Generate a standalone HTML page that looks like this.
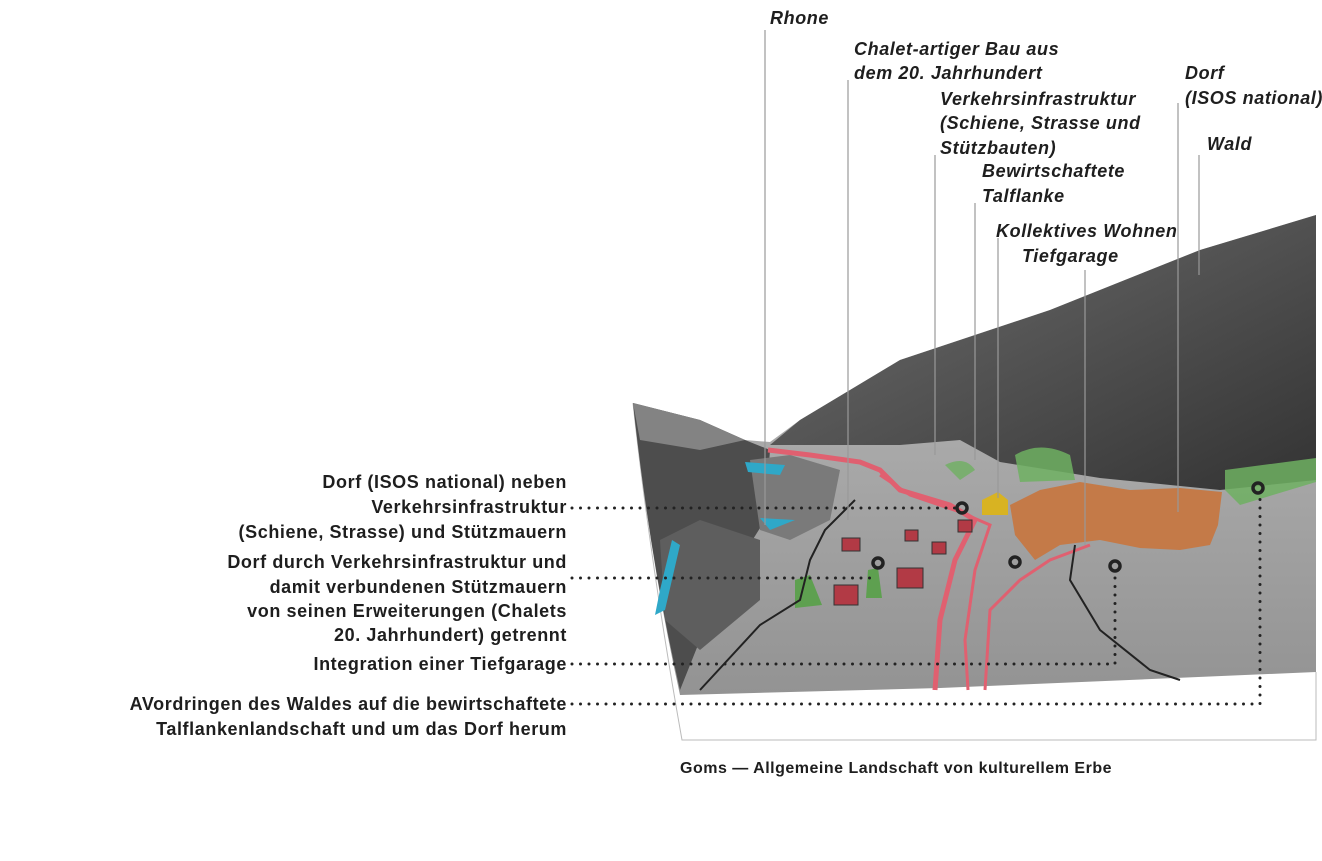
<!DOCTYPE html>
<html><head><meta charset="utf-8"><style>
body{margin:0;background:#fff;width:1322px;height:861px;overflow:hidden;font-family:"Liberation Sans",sans-serif}
svg{position:absolute;left:0;top:0}
.t{font-family:"Liberation Sans",sans-serif;font-size:18px;fill:#1e1e1e;font-weight:bold;letter-spacing:0.6px}
.i{font-style:italic}
</style></head><body>
<svg width="1322" height="861" viewBox="0 0 1322 861">
<defs>
<linearGradient id="mt" x1="0" y1="0" x2="1" y2="1"><stop offset="0" stop-color="#707070"/><stop offset="1" stop-color="#333"/></linearGradient>
<linearGradient id="fl" x1="0" y1="0" x2="0" y2="1"><stop offset="0" stop-color="#bdbdbd"/><stop offset="1" stop-color="#939393"/></linearGradient>
</defs>
<path d="M633,403 Q650,560 682,740 L1316,740 L1316,672" fill="none" stroke="#bbb" stroke-width="1"/>
<path d="M633,403 L700,420 L745,440 L770,442 L800,420 L900,360 L1050,310 L1200,250 L1316,215 L1316,672 L940,688 L680,695 Q650,560 633,403Z" fill="url(#fl)"/>
<path d="M770,445 L800,420 L900,360 L1050,310 L1200,250 L1316,215 L1316,480 L1220,490 L1100,478 L1000,462 L960,440 L900,445 Z" fill="url(#mt)"/>
<path d="M633,403 L700,420 L745,440 L770,450 L765,520 L740,560 L700,640 L680,690 Q650,560 633,403Z" fill="#4d4d4d"/>
<path d="M633,403 L700,420 L745,440 L700,450 L640,440Z" fill="#9a9a9a" opacity=".7"/>
<path d="M750,460 L790,455 L840,470 L830,520 L790,540 L760,530Z" fill="#7a7a7a"/>
<path d="M660,540 L700,520 L760,540 L760,600 L700,650 L665,620Z" fill="#5e5e5e"/>
<path d="M745,462 L785,465 L780,475 L748,472Z" fill="#2fa8c8"/>
<path d="M760,518 L795,520 L770,530Z" fill="#2fa8c8"/>
<path d="M672,540 L660,590 L655,615 L665,610 L680,545Z" fill="#2fa8c8"/>
<path d="M1015,455 Q1040,440 1070,455 L1075,480 L1020,482Z" fill="#6fb061" opacity=".85"/>
<path d="M945,465 Q965,455 975,470 L960,480Z" fill="#6fb061" opacity=".8"/>
<path d="M1225,470 L1316,458 L1316,482 L1240,505 L1225,490Z" fill="#6fb061" opacity=".85"/>
<path d="M795,580 L810,575 L822,605 L795,608Z" fill="#5ea050"/>
<path d="M868,570 L878,568 L882,598 L866,598Z" fill="#5ea050"/>
<path d="M1010,505 L1040,490 L1080,482 L1130,490 L1180,488 L1222,492 L1218,525 L1210,545 L1180,550 L1140,548 L1100,540 L1060,545 L1035,560 L1015,535Z" fill="#c8763e" opacity=".9"/>
<path d="M982,500 L998,492 L1008,500 L1008,515 L982,515Z" fill="#d8b322"/>
<path d="M768,450 L810,455 L860,462 L880,470 L900,490 L950,505 L975,520 L955,560 L940,620 L935,690" fill="none" stroke="#e06070" stroke-width="5"/>
<path d="M880,475 L910,495 L960,512 L990,525 L975,570 L965,640 L968,690" fill="none" stroke="#e06070" stroke-width="3"/>
<path d="M1090,545 L1050,560 L1020,580 L990,610 L985,690" fill="none" stroke="#e06070" stroke-width="3"/>
<path d="M855,500 L825,530 L810,560 L800,600 L760,625 L700,690" fill="none" stroke="#222" stroke-width="2"/>
<path d="M1075,545 L1070,580 L1100,630 L1150,670 L1180,680" fill="none" stroke="#222" stroke-width="2"/>
<g fill="#b23a45" stroke="#333" stroke-width="1">
<rect x="842" y="538" width="18" height="13"/><rect x="932" y="542" width="14" height="12"/><rect x="905" y="530" width="13" height="11"/>
<rect x="834" y="585" width="24" height="20"/><rect x="897" y="568" width="26" height="20"/><rect x="958" y="520" width="14" height="12"/>
</g>
<g fill="none" stroke="#222" stroke-width="3.5">
<circle cx="962" cy="508" r="5"/><circle cx="1015" cy="562" r="5"/><circle cx="1115" cy="566" r="5"/><circle cx="1258" cy="488" r="5"/><circle cx="878" cy="563" r="5"/>
</g>
<g stroke="#999" stroke-width="1.2">
<line x1="765" y1="30" x2="765" y2="525"/><line x1="848" y1="80" x2="848" y2="520"/>
<line x1="935" y1="155" x2="935" y2="455"/><line x1="975" y1="203" x2="975" y2="460"/>
<line x1="998" y1="238" x2="998" y2="498"/><line x1="1085" y1="270" x2="1085" y2="545"/>
<line x1="1178" y1="103" x2="1178" y2="512"/><line x1="1199" y1="155" x2="1199" y2="275"/>
</g>
<g stroke="#222" stroke-width="3" stroke-linecap="round" stroke-dasharray="0 8.5" fill="none">
<path d="M572,508 L957,508"/><path d="M572,578 L872,578"/>
<path d="M572,664 L1115,664 L1115,574"/><path d="M572,704 L1260,704 L1260,496"/>
</g>
<g class="t i">
<text x="770" y="24">Rhone</text>
<text x="854" y="55">Chalet-artiger Bau aus</text><text x="854" y="79">dem 20. Jahrhundert</text>
<text x="940" y="105">Verkehrsinfrastruktur</text><text x="940" y="129">(Schiene, Strasse und</text><text x="940" y="154">Stützbauten)</text>
<text x="982" y="177">Bewirtschaftete</text><text x="982" y="202">Talflanke</text>
<text x="996" y="237">Kollektives Wohnen</text><text x="1022" y="262">Tiefgarage</text>
<text x="1185" y="79">Dorf</text><text x="1185" y="104">(ISOS national)</text>
<text x="1207" y="150">Wald</text>
</g>
<g class="t" text-anchor="end">
<text x="567" y="488">Dorf (ISOS national) neben</text>
<text x="567" y="513">Verkehrsinfrastruktur</text>
<text x="567" y="538">(Schiene, Strasse) und Stützmauern</text>
<text x="567" y="568">Dorf durch Verkehrsinfrastruktur und</text>
<text x="567" y="593">damit verbundenen Stützmauern</text>
<text x="567" y="617">von seinen Erweiterungen (Chalets</text>
<text x="567" y="641">20. Jahrhundert) getrennt</text>
<text x="567" y="670">Integration einer Tiefgarage</text>
<text x="567" y="710">AVordringen des Waldes auf die bewirtschaftete</text>
<text x="567" y="735">Talflankenlandschaft und um das Dorf herum</text>
</g>
<text x="680" y="773" class="t" style="font-size:16px;letter-spacing:0.5px">Goms — Allgemeine Landschaft von kulturellem Erbe</text>
</svg>
</body></html>
